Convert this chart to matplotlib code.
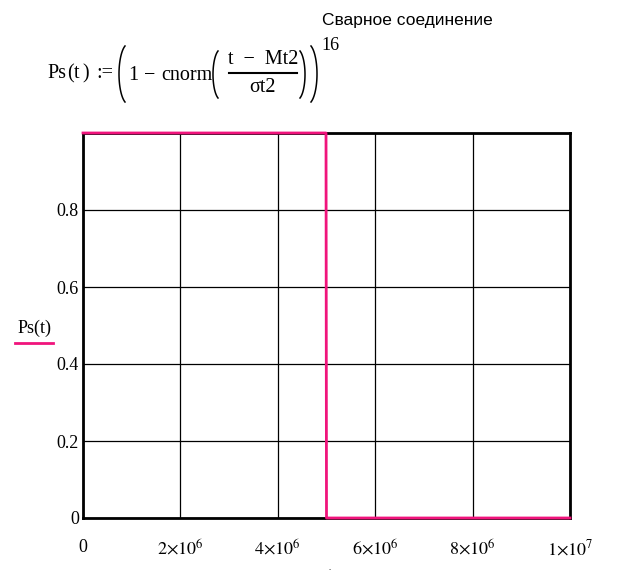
import matplotlib
matplotlib.use("Agg")
import numpy as np
import matplotlib.pyplot as plt

# step curve Ps(t)
t_vals = [0, 4.99e6, 5.0e6, 1.0e7]
ps_vals = [1, 1, 0, 0]

x_ticks = [0, 2e6, 4e6, 6e6, 8e6, 1e7]
x_labels = ["0", r"$2{\times}10^{6}$", r"$4{\times}10^{6}$", r"$6{\times}10^{6}$",
            r"$8{\times}10^{6}$", r"$1{\times}10^{7}$"]
y_ticks = [0, 0.2, 0.4, 0.6, 0.8, 1.0]
y_labels = ["0", "0.2", "0.4", "0.6", "0.8", ""]

pink = "#f0147c"

plt.rcParams["font.family"] = ["Liberation Serif", "DejaVu Serif"]
plt.rcParams["mathtext.fontset"] = "stix"

fig = plt.figure(figsize=(6.17, 5.78), dpi=100)
ax = fig.add_axes([83 / 617, 1 - 518 / 578, 487 / 617, 385 / 578])

ax.plot(t_vals, ps_vals, color=pink, lw=2, clip_on=False, zorder=5)

ax.set_xlim(0, 1e7)
ax.set_ylim(0, 1)
ax.set_xticks(x_ticks)
ax.set_xticklabels(x_labels, fontsize=13)
ax.set_yticks(y_ticks)
ax.set_yticklabels(y_labels, fontsize=13)
ax.tick_params(length=0, pad=15, axis="x")
ax.tick_params(length=0, pad=3, axis="y")
ax.grid(True, color="black", lw=0.9)
for s in ax.spines.values():
    s.set_linewidth(2)
    s.set_color("black")

# overlay in pixel coordinates for the header formula and the y label
ov = fig.add_axes([0, 0, 1, 1], zorder=-1)
ov.set_xlim(0, 617)
ov.set_ylim(578, 0)
ov.axis("off")


def paren(x0, y0, y1, w, left=True):
    # thin Mathcad-style bracket
    a = np.linspace(-1.2, 1.2, 60)
    cy = (y0 + y1) / 2
    ry = (y1 - y0) / 2 / np.sin(1.2)
    rx = w / (1 - np.cos(1.2))
    if left:
        xs = x0 + rx * (1 - np.cos(a))
    else:
        xs = x0 + w - rx * (1 - np.cos(a))
    ov.plot(xs, cy + ry * np.sin(a), color="black", lw=1.1)


fs = 14.5
ov.text(47, 74, "Ps", fontsize=fs, ha="left", va="center")
ov.text(67, 74, "(", fontsize=fs, ha="left", va="center")
ov.text(74, 74, "t", fontsize=fs, ha="left", va="center")
ov.text(82, 74, ")", fontsize=fs, ha="left", va="center")
ov.text(96, 74, ":=", fontsize=fs, ha="left", va="center")
paren(119, 46, 102, 6, left=True)
ov.text(128, 75, "1", fontsize=fs, ha="left", va="center")
ov.text(150, 75, "\u2212", fontsize=fs, ha="center", va="center")
ov.text(161, 75, "cnorm", fontsize=fs, ha="left", va="center")
paren(213, 51, 98, 5, left=True)
ov.text(263, 59, "t  \u2212  Mt2", fontsize=fs, ha="center", va="center")
ov.plot([229, 297], [73, 73], color="black", lw=1.5)
ov.text(263, 88, "\u03c3t2", fontsize=fs, ha="center", va="center")
paren(300, 51, 98, 5, left=False)
paren(311, 46, 102, 6, left=False)
ov.text(321, 45, "16", fontsize=13, ha="left", va="center")

fig.text(322 / 617, 1 - 21 / 578, "Сварное соединение", fontsize=12.5,
         family=["Liberation Sans", "DejaVu Sans"], ha="left", va="center")

# y label with pink underline
ov.text(35, 328, "Ps(t)", fontsize=13, ha="center", va="center")
ov.plot([15, 53], [343, 343], color=pink, lw=2)
ov.text(330, 570, ".", fontsize=6, ha="center")

fig.savefig("out.png", dpi=100)
